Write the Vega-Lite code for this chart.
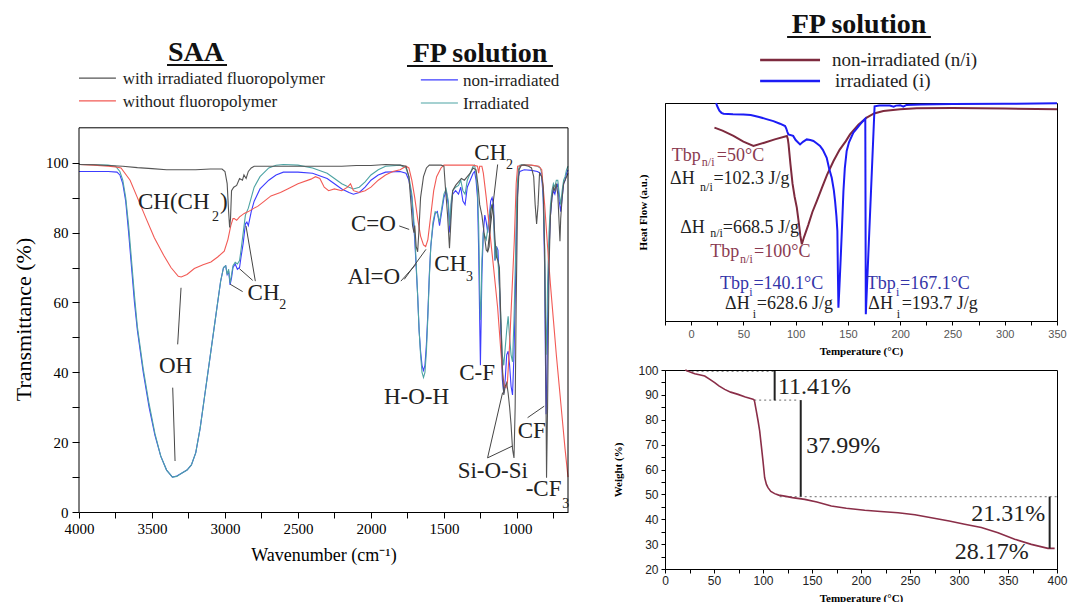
{
"$schema": "https://vega.github.io/schema/vega-lite/v6.json",
"background": "white",
"padding": {"left": 12, "top": 10, "right": 0, "bottom": 0},
"bounds": "flush",
"spacing": 97,
"config": {
  "view": {"stroke": "black", "strokeWidth": 1},
  "axis": {"grid": false, "labelFlush": false, "domainColor": "black", "tickColor": "black", "labelColor": "black", "titleColor": "black", "titleFontWeight": "normal"},
  "text": {"font": "Liberation Serif"}
},
"datasets": {
  "ftir": [
    {"s":"b","x":4000,"y":97.5},{"s":"b","x":3900,"y":97.5},{"s":"b","x":3800,"y":97.5},{"s":"b","x":3740,"y":97.3},{"s":"b","x":3720,"y":96.5},{"s":"b","x":3700,"y":94},{"s":"b","x":3680,"y":89},{"s":"b","x":3660,"y":80},{"s":"b","x":3640,"y":70},{"s":"b","x":3620,"y":60},{"s":"b","x":3600,"y":52},{"s":"b","x":3560,"y":40},{"s":"b","x":3520,"y":30},{"s":"b","x":3480,"y":22},{"s":"b","x":3440,"y":16},{"s":"b","x":3400,"y":12},{"s":"b","x":3360,"y":10},{"s":"b","x":3330,"y":10.3},{"s":"b","x":3300,"y":11},{"s":"b","x":3260,"y":12},{"s":"b","x":3230,"y":13.5},{"s":"b","x":3200,"y":17},{"s":"b","x":3170,"y":24},{"s":"b","x":3140,"y":33},{"s":"b","x":3100,"y":45},{"s":"b","x":3060,"y":57},{"s":"b","x":3030,"y":66},{"s":"b","x":3010,"y":70},{"s":"b","x":2995,"y":70.5},{"s":"b","x":2985,"y":68},{"s":"b","x":2975,"y":69},{"s":"b","x":2965,"y":65},{"s":"b","x":2955,"y":67},{"s":"b","x":2945,"y":70},{"s":"b","x":2930,"y":71},{"s":"b","x":2915,"y":69.5},{"s":"b","x":2900,"y":70},{"s":"b","x":2890,"y":73},{"s":"b","x":2875,"y":77},{"s":"b","x":2860,"y":82.5},{"s":"b","x":2850,"y":83},{"s":"b","x":2840,"y":82},{"s":"b","x":2820,"y":86},{"s":"b","x":2800,"y":89},{"s":"b","x":2760,"y":92.5},{"s":"b","x":2700,"y":95},{"s":"b","x":2650,"y":96.5},{"s":"b","x":2600,"y":97.3},{"s":"b","x":2500,"y":97.3},{"s":"b","x":2400,"y":97},{"s":"b","x":2300,"y":95.5},{"s":"b","x":2250,"y":94},{"s":"b","x":2200,"y":92.5},{"s":"b","x":2150,"y":91.5},{"s":"b","x":2120,"y":91},{"s":"b","x":2080,"y":91.5},{"s":"b","x":2040,"y":93},{"s":"b","x":2000,"y":95},{"s":"b","x":1950,"y":96.5},{"s":"b","x":1900,"y":97.3},{"s":"b","x":1800,"y":97.5},{"s":"b","x":1760,"y":97},{"s":"b","x":1740,"y":95},{"s":"b","x":1720,"y":90},{"s":"b","x":1700,"y":78},{"s":"b","x":1690,"y":70},{"s":"b","x":1680,"y":62},{"s":"b","x":1670,"y":52},{"s":"b","x":1660,"y":46},{"s":"b","x":1650,"y":42},{"s":"b","x":1640,"y":40.5},{"s":"b","x":1630,"y":42},{"s":"b","x":1620,"y":48},{"s":"b","x":1610,"y":57},{"s":"b","x":1600,"y":68},{"s":"b","x":1590,"y":76},{"s":"b","x":1575,"y":82},{"s":"b","x":1560,"y":85.5},{"s":"b","x":1545,"y":86},{"s":"b","x":1530,"y":82},{"s":"b","x":1515,"y":86},{"s":"b","x":1500,"y":90},{"s":"b","x":1485,"y":92},{"s":"b","x":1470,"y":88},{"s":"b","x":1460,"y":80},{"s":"b","x":1450,"y":88},{"s":"b","x":1440,"y":91},{"s":"b","x":1420,"y":92},{"s":"b","x":1400,"y":91},{"s":"b","x":1385,"y":93},{"s":"b","x":1370,"y":89},{"s":"b","x":1355,"y":88},{"s":"b","x":1340,"y":93},{"s":"b","x":1320,"y":95},{"s":"b","x":1300,"y":97},{"s":"b","x":1290,"y":97.5},{"s":"b","x":1280,"y":95},{"s":"b","x":1270,"y":90},{"s":"b","x":1262,"y":75},{"s":"b","x":1255,"y":55},{"s":"b","x":1250,"y":42},{"s":"b","x":1245,"y":55},{"s":"b","x":1240,"y":68},{"s":"b","x":1230,"y":80},{"s":"b","x":1220,"y":85},{"s":"b","x":1210,"y":83},{"s":"b","x":1200,"y":80},{"s":"b","x":1190,"y":84},{"s":"b","x":1180,"y":89},{"s":"b","x":1170,"y":90},{"s":"b","x":1160,"y":88},{"s":"b","x":1150,"y":72},{"s":"b","x":1140,"y":76},{"s":"b","x":1130,"y":75},{"s":"b","x":1120,"y":65},{"s":"b","x":1110,"y":52},{"s":"b","x":1100,"y":38},{"s":"b","x":1090,"y":34},{"s":"b","x":1080,"y":38},{"s":"b","x":1070,"y":45},{"s":"b","x":1060,"y":46},{"s":"b","x":1050,"y":42},{"s":"b","x":1040,"y":36},{"s":"b","x":1030,"y":33.5},{"s":"b","x":1020,"y":45},{"s":"b","x":1010,"y":65},{"s":"b","x":1000,"y":88},{"s":"b","x":990,"y":96},{"s":"b","x":980,"y":97.5},{"s":"b","x":950,"y":98},{"s":"b","x":900,"y":97.8},{"s":"b","x":860,"y":97.5},{"s":"b","x":840,"y":97},{"s":"b","x":830,"y":96},{"s":"b","x":820,"y":90},{"s":"b","x":810,"y":70},{"s":"b","x":805,"y":45},{"s":"b","x":800,"y":28},{"s":"b","x":795,"y":35},{"s":"b","x":790,"y":55},{"s":"b","x":780,"y":75},{"s":"b","x":770,"y":85},{"s":"b","x":760,"y":90},{"s":"b","x":750,"y":92},{"s":"b","x":740,"y":91},{"s":"b","x":730,"y":93},{"s":"b","x":720,"y":94},{"s":"b","x":710,"y":89},{"s":"b","x":700,"y":86},{"s":"b","x":690,"y":90},{"s":"b","x":680,"y":94},{"s":"b","x":670,"y":95},{"s":"b","x":660,"y":97},{"s":"b","x":650,"y":98},
    {"s":"t","x":4000,"y":99.5},{"s":"t","x":3900,"y":99.4},{"s":"t","x":3800,"y":99.3},{"s":"t","x":3750,"y":99},{"s":"t","x":3720,"y":97.5},{"s":"t","x":3700,"y":95},{"s":"t","x":3680,"y":90},{"s":"t","x":3660,"y":82},{"s":"t","x":3640,"y":72},{"s":"t","x":3620,"y":62},{"s":"t","x":3600,"y":53},{"s":"t","x":3560,"y":41},{"s":"t","x":3520,"y":31},{"s":"t","x":3480,"y":22.5},{"s":"t","x":3440,"y":16},{"s":"t","x":3400,"y":12},{"s":"t","x":3360,"y":10},{"s":"t","x":3330,"y":10.2},{"s":"t","x":3300,"y":11},{"s":"t","x":3260,"y":12},{"s":"t","x":3230,"y":13.5},{"s":"t","x":3200,"y":17},{"s":"t","x":3170,"y":24},{"s":"t","x":3140,"y":33},{"s":"t","x":3100,"y":45},{"s":"t","x":3060,"y":57},{"s":"t","x":3030,"y":66},{"s":"t","x":3010,"y":70},{"s":"t","x":2995,"y":70.5},{"s":"t","x":2985,"y":68},{"s":"t","x":2975,"y":69.5},{"s":"t","x":2965,"y":65.5},{"s":"t","x":2955,"y":68},{"s":"t","x":2945,"y":70.5},{"s":"t","x":2930,"y":71.5},{"s":"t","x":2915,"y":71},{"s":"t","x":2900,"y":72},{"s":"t","x":2890,"y":75},{"s":"t","x":2875,"y":80},{"s":"t","x":2860,"y":85},{"s":"t","x":2850,"y":86},{"s":"t","x":2840,"y":87},{"s":"t","x":2820,"y":90},{"s":"t","x":2800,"y":93},{"s":"t","x":2760,"y":96},{"s":"t","x":2700,"y":98.5},{"s":"t","x":2650,"y":99.3},{"s":"t","x":2600,"y":99.5},{"s":"t","x":2500,"y":99.3},{"s":"t","x":2400,"y":98.5},{"s":"t","x":2300,"y":97},{"s":"t","x":2250,"y":95.5},{"s":"t","x":2200,"y":94},{"s":"t","x":2150,"y":93},{"s":"t","x":2120,"y":92.5},{"s":"t","x":2080,"y":93},{"s":"t","x":2040,"y":94.5},{"s":"t","x":2000,"y":96.5},{"s":"t","x":1950,"y":98},{"s":"t","x":1900,"y":99},{"s":"t","x":1800,"y":99.3},{"s":"t","x":1760,"y":98.5},{"s":"t","x":1740,"y":96},{"s":"t","x":1720,"y":91},{"s":"t","x":1700,"y":80},{"s":"t","x":1690,"y":71},{"s":"t","x":1680,"y":62},{"s":"t","x":1670,"y":52},{"s":"t","x":1660,"y":45},{"s":"t","x":1650,"y":40},{"s":"t","x":1640,"y":38.5},{"s":"t","x":1630,"y":40},{"s":"t","x":1620,"y":46},{"s":"t","x":1610,"y":56},{"s":"t","x":1600,"y":67},{"s":"t","x":1590,"y":76},{"s":"t","x":1575,"y":83},{"s":"t","x":1560,"y":86},{"s":"t","x":1545,"y":85.5},{"s":"t","x":1530,"y":83},{"s":"t","x":1515,"y":87},{"s":"t","x":1500,"y":91},{"s":"t","x":1485,"y":92.5},{"s":"t","x":1470,"y":89},{"s":"t","x":1460,"y":82},{"s":"t","x":1450,"y":89},{"s":"t","x":1440,"y":92},{"s":"t","x":1420,"y":93},{"s":"t","x":1400,"y":93.5},{"s":"t","x":1385,"y":95},{"s":"t","x":1370,"y":92},{"s":"t","x":1355,"y":91},{"s":"t","x":1340,"y":95},{"s":"t","x":1320,"y":97},{"s":"t","x":1300,"y":99},{"s":"t","x":1290,"y":99.3},{"s":"t","x":1280,"y":97},{"s":"t","x":1270,"y":92},{"s":"t","x":1262,"y":82},{"s":"t","x":1255,"y":65},{"s":"t","x":1250,"y":55},{"s":"t","x":1245,"y":60},{"s":"t","x":1240,"y":72},{"s":"t","x":1230,"y":80},{"s":"t","x":1220,"y":79},{"s":"t","x":1210,"y":78},{"s":"t","x":1200,"y":81},{"s":"t","x":1190,"y":85},{"s":"t","x":1180,"y":87},{"s":"t","x":1170,"y":88},{"s":"t","x":1160,"y":86},{"s":"t","x":1150,"y":72},{"s":"t","x":1140,"y":76},{"s":"t","x":1130,"y":72},{"s":"t","x":1120,"y":65},{"s":"t","x":1110,"y":55},{"s":"t","x":1100,"y":45},{"s":"t","x":1090,"y":42},{"s":"t","x":1080,"y":47},{"s":"t","x":1070,"y":52},{"s":"t","x":1060,"y":56},{"s":"t","x":1050,"y":50},{"s":"t","x":1040,"y":45},{"s":"t","x":1030,"y":43},{"s":"t","x":1020,"y":55},{"s":"t","x":1010,"y":72},{"s":"t","x":1000,"y":92},{"s":"t","x":990,"y":98},{"s":"t","x":980,"y":99.3},{"s":"t","x":950,"y":99.5},{"s":"t","x":900,"y":99.3},{"s":"t","x":860,"y":99},{"s":"t","x":840,"y":98.5},{"s":"t","x":830,"y":97},{"s":"t","x":820,"y":92},{"s":"t","x":810,"y":75},{"s":"t","x":805,"y":58},{"s":"t","x":800,"y":45},{"s":"t","x":795,"y":52},{"s":"t","x":790,"y":65},{"s":"t","x":780,"y":80},{"s":"t","x":770,"y":88},{"s":"t","x":760,"y":92},{"s":"t","x":750,"y":94},{"s":"t","x":740,"y":93},{"s":"t","x":730,"y":95},{"s":"t","x":720,"y":95},{"s":"t","x":710,"y":91},{"s":"t","x":700,"y":88},{"s":"t","x":690,"y":92},{"s":"t","x":680,"y":95},{"s":"t","x":670,"y":96},{"s":"t","x":660,"y":98},{"s":"t","x":650,"y":99},
    {"s":"r","x":4000,"y":99.5},{"s":"r","x":3900,"y":99.3},{"s":"r","x":3800,"y":99},{"s":"r","x":3750,"y":98.8},{"s":"r","x":3712,"y":98.5},{"s":"r","x":3650,"y":95},{"s":"r","x":3600,"y":90},{"s":"r","x":3540,"y":84},{"s":"r","x":3484,"y":78.5},{"s":"r","x":3420,"y":73.5},{"s":"r","x":3370,"y":70},{"s":"r","x":3320,"y":67.5},{"s":"r","x":3300,"y":67.3},{"s":"r","x":3260,"y":68},{"s":"r","x":3210,"y":69.7},{"s":"r","x":3150,"y":70.8},{"s":"r","x":3096,"y":71.6},{"s":"r","x":3050,"y":73},{"s":"r","x":3005,"y":74.7},{"s":"r","x":2980,"y":78},{"s":"r","x":2960,"y":82},{"s":"r","x":2945,"y":84},{"s":"r","x":2936,"y":84},{"s":"r","x":2920,"y":83.5},{"s":"r","x":2900,"y":84.5},{"s":"r","x":2868,"y":85.5},{"s":"r","x":2840,"y":86},{"s":"r","x":2800,"y":87},{"s":"r","x":2776,"y":87.5},{"s":"r","x":2730,"y":89},{"s":"r","x":2685,"y":90.5},{"s":"r","x":2620,"y":91.5},{"s":"r","x":2571,"y":92.5},{"s":"r","x":2500,"y":94},{"s":"r","x":2411,"y":95.3},{"s":"r","x":2380,"y":96},{"s":"r","x":2350,"y":95.5},{"s":"r","x":2320,"y":93},{"s":"r","x":2290,"y":92},{"s":"r","x":2250,"y":92.5},{"s":"r","x":2200,"y":92},{"s":"r","x":2160,"y":93},{"s":"r","x":2140,"y":94},{"s":"r","x":2120,"y":92},{"s":"r","x":2080,"y":91.5},{"s":"r","x":2040,"y":92},{"s":"r","x":2000,"y":93},{"s":"r","x":1950,"y":95},{"s":"r","x":1900,"y":96.5},{"s":"r","x":1850,"y":97.5},{"s":"r","x":1800,"y":98},{"s":"r","x":1760,"y":99},{"s":"r","x":1740,"y":98.5},{"s":"r","x":1720,"y":95},{"s":"r","x":1700,"y":90},{"s":"r","x":1680,"y":84},{"s":"r","x":1660,"y":79},{"s":"r","x":1640,"y":76.5},{"s":"r","x":1625,"y":76},{"s":"r","x":1610,"y":78},{"s":"r","x":1590,"y":85},{"s":"r","x":1570,"y":92},{"s":"r","x":1550,"y":96},{"s":"r","x":1520,"y":98.5},{"s":"r","x":1500,"y":99.3},{"s":"r","x":1400,"y":99.3},{"s":"r","x":1300,"y":99.3},{"s":"r","x":1270,"y":99},{"s":"r","x":1262,"y":97},{"s":"r","x":1255,"y":99},{"s":"r","x":1240,"y":99},{"s":"r","x":1230,"y":97},{"s":"r","x":1210,"y":90},{"s":"r","x":1190,"y":82},{"s":"r","x":1160,"y":70},{"s":"r","x":1132,"y":58.5},{"s":"r","x":1110,"y":46},{"s":"r","x":1098,"y":39.5},{"s":"r","x":1085,"y":36},{"s":"r","x":1075,"y":35.6},{"s":"r","x":1065,"y":37},{"s":"r","x":1050,"y":48},{"s":"r","x":1035,"y":62},{"s":"r","x":1018,"y":77.6},{"s":"r","x":1005,"y":94},{"s":"r","x":995,"y":99},{"s":"r","x":950,"y":99.3},{"s":"r","x":900,"y":99.3},{"s":"r","x":850,"y":99},{"s":"r","x":830,"y":98},{"s":"r","x":810,"y":88},{"s":"r","x":790,"y":76},{"s":"r","x":770,"y":65},{"s":"r","x":750,"y":55},{"s":"r","x":730,"y":45},{"s":"r","x":710,"y":36},{"s":"r","x":690,"y":27},{"s":"r","x":670,"y":18},{"s":"r","x":650,"y":10},
    {"s":"g","x":4000,"y":99.5},{"s":"g","x":3900,"y":99.4},{"s":"g","x":3800,"y":99.2},{"s":"g","x":3700,"y":99},{"s":"g","x":3600,"y":98.6},{"s":"g","x":3500,"y":98.3},{"s":"g","x":3400,"y":98},{"s":"g","x":3300,"y":98},{"s":"g","x":3200,"y":98},{"s":"g","x":3100,"y":98.2},{"s":"g","x":3020,"y":98.2},{"s":"g","x":3000,"y":97.5},{"s":"g","x":2985,"y":94},{"s":"g","x":2975,"y":86},{"s":"g","x":2968,"y":81.5},{"s":"g","x":2962,"y":84},{"s":"g","x":2955,"y":92},{"s":"g","x":2940,"y":93},{"s":"g","x":2920,"y":93.5},{"s":"g","x":2900,"y":95.5},{"s":"g","x":2880,"y":95},{"s":"g","x":2870,"y":96.5},{"s":"g","x":2855,"y":95.5},{"s":"g","x":2840,"y":97.5},{"s":"g","x":2820,"y":98.5},{"s":"g","x":2800,"y":99},{"s":"g","x":2600,"y":99},{"s":"g","x":2400,"y":99},{"s":"g","x":2200,"y":99},{"s":"g","x":2100,"y":99.2},{"s":"g","x":2000,"y":99.2},{"s":"g","x":1900,"y":99.5},{"s":"g","x":1800,"y":99.3},{"s":"g","x":1760,"y":99},{"s":"g","x":1740,"y":96},{"s":"g","x":1725,"y":88},{"s":"g","x":1715,"y":82},{"s":"g","x":1705,"y":80},{"s":"g","x":1700,"y":82},{"s":"g","x":1690,"y":76},{"s":"g","x":1680,"y":74.5},{"s":"g","x":1672,"y":80},{"s":"g","x":1660,"y":90},{"s":"g","x":1640,"y":96},{"s":"g","x":1620,"y":98.5},{"s":"g","x":1600,"y":99.3},{"s":"g","x":1520,"y":99.3},{"s":"g","x":1500,"y":99},{"s":"g","x":1490,"y":93},{"s":"g","x":1475,"y":85},{"s":"g","x":1462,"y":75.5},{"s":"g","x":1450,"y":85},{"s":"g","x":1440,"y":92},{"s":"g","x":1420,"y":93.5},{"s":"g","x":1400,"y":94.5},{"s":"g","x":1380,"y":95.5},{"s":"g","x":1360,"y":95},{"s":"g","x":1340,"y":96},{"s":"g","x":1320,"y":97},{"s":"g","x":1300,"y":98.5},{"s":"g","x":1280,"y":98},{"s":"g","x":1265,"y":93},{"s":"g","x":1255,"y":88},{"s":"g","x":1240,"y":85},{"s":"g","x":1225,"y":80},{"s":"g","x":1210,"y":75},{"s":"g","x":1200,"y":74.5},{"s":"g","x":1190,"y":76},{"s":"g","x":1180,"y":86},{"s":"g","x":1170,"y":88},{"s":"g","x":1160,"y":85},{"s":"g","x":1150,"y":78},{"s":"g","x":1140,"y":73},{"s":"g","x":1130,"y":72},{"s":"g","x":1120,"y":70},{"s":"g","x":1110,"y":55},{"s":"g","x":1100,"y":42},{"s":"g","x":1090,"y":33.5},{"s":"g","x":1080,"y":36},{"s":"g","x":1070,"y":37},{"s":"g","x":1060,"y":34},{"s":"g","x":1050,"y":30},{"s":"g","x":1040,"y":25},{"s":"g","x":1030,"y":18},{"s":"g","x":1020,"y":15.5},{"s":"g","x":1012,"y":30},{"s":"g","x":1005,"y":60},{"s":"g","x":995,"y":90},{"s":"g","x":985,"y":98},{"s":"g","x":970,"y":99.3},{"s":"g","x":950,"y":99.3},{"s":"g","x":920,"y":99},{"s":"g","x":900,"y":98.5},{"s":"g","x":885,"y":96},{"s":"g","x":875,"y":88},{"s":"g","x":865,"y":82.5},{"s":"g","x":855,"y":88},{"s":"g","x":845,"y":97},{"s":"g","x":830,"y":96},{"s":"g","x":820,"y":93},{"s":"g","x":810,"y":75},{"s":"g","x":803,"y":45},{"s":"g","x":797,"y":9.8},{"s":"g","x":790,"y":30},{"s":"g","x":780,"y":70},{"s":"g","x":770,"y":85},{"s":"g","x":760,"y":90},{"s":"g","x":750,"y":93},{"s":"g","x":740,"y":92},{"s":"g","x":730,"y":94},{"s":"g","x":720,"y":91},{"s":"g","x":710,"y":82},{"s":"g","x":705,"y":77.5},{"s":"g","x":700,"y":84},{"s":"g","x":690,"y":90},{"s":"g","x":680,"y":94},{"s":"g","x":670,"y":95},{"s":"g","x":660,"y":96},{"s":"g","x":650,"y":97}
  ],
  "ftirFrame": [
    {"x":4000,"x2":650,"y":110,"y2":110},{"x":4000,"x2":4000,"y":0,"y2":110},{"x":650,"x2":650,"y":0,"y2":110}
  ],
  "ftirText": [
    {"x":3596,"y":86.7,"label":"CH(CH"},{"x":3034,"y":86.7,"label":")"},{"x":3452,"y":39.7,"label":"OH"},{"x":2845,"y":60.6,"label":"CH"},{"x":2137,"y":80.4,"label":"C=O"},{"x":2160,"y":65.4,"label":"Al=O"},{"x":1566,"y":69,"label":"CH"},{"x":1292,"y":100.8,"label":"CH"},{"x":1395,"y":37.7,"label":"C-F"},{"x":1911,"y":31,"label":"H-O-H"},{"x":1406,"y":9.8,"label":"Si-O-Si"},{"x":995,"y":21.3,"label":"CF"},{"x":940,"y":4.6,"label":"-CF"}
  ],
  "ftirSub": [
    {"x":3089,"y":83.3,"label":"2"},{"x":2628,"y":58,"label":"2"},{"x":1349,"y":66.1,"label":"3"},{"x":1075,"y":98.2,"label":"2"},{"x":690,"y":1.2,"label":"3"}
  ],
  "ftirLead": [
    {"x":3301,"y":64.2,"x2":3324,"y2":48},{"x":3358,"y":35.6,"x2":3342,"y2":14.6},{"x":2964,"y":65.2,"x2":2879,"y2":63.1},{"x":2902,"y":69.7,"x2":2810,"y2":66.3},{"x":2856,"y":81.9,"x2":2792,"y2":66.1},{"x":1806,"y":81.9,"x2":1738,"y2":80.9},{"x":1795,"y":66.1,"x2":1692,"y2":70.9},{"x":1772,"y":66.6,"x2":1623,"y2":75.2},{"x":1132,"y":99.5,"x2":1201,"y2":74.7},{"x":1201,"y":15.5,"x2":1098,"y2":34.2},{"x":1201,"y":15.5,"x2":1030,"y2":18.9},{"x":927,"y":27,"x2":813,"y2":30.3}
  ],
  "ftirLegLine": [
    {"s":"g","x":4000,"x2":3747,"y":124.2},{"s":"r","x":4000,"x2":3747,"y":117.7},{"s":"b","x":1658,"x2":1404,"y":123.7},{"s":"t","x":1658,"x2":1404,"y":117.1}
  ],
  "ftirLegText": [
    {"x":3700,"y":122.5,"label":"with irradiated fluoropolymer"},{"x":3700,"y":115.9,"label":"without fluoropolymer"},{"x":1370,"y":122,"label":"non-irradiated"},{"x":1370,"y":115.4,"label":"Irradiated"}
  ],
  "ftirTitle": [
    {"x":3199,"y":129.1,"label":"SAA"},{"x":1253,"y":128.8,"label":"FP solution"}
  ],
  "ftirUnder": [
    {"x":3397,"x2":2986,"y":128},{"x":1753,"x2":753,"y":127.7}
  ],
  "dsc": [
    {"s":"m","x":22.3,"y":88.7},{"s":"m","x":30,"y":87.3},{"s":"m","x":40.5,"y":84.9},{"s":"m","x":50,"y":82.3},{"s":"m","x":59.6,"y":80.3},{"s":"m","x":70,"y":81.8},{"s":"m","x":80,"y":83.3},{"s":"m","x":91.6,"y":84.9},{"s":"m","x":92.5,"y":83.5},{"s":"m","x":93.2,"y":81},{"s":"m","x":95,"y":72},{"s":"m","x":97,"y":63},{"s":"m","x":99,"y":57},{"s":"m","x":101.1,"y":52},{"s":"m","x":103,"y":45},{"s":"m","x":104.5,"y":39},{"s":"m","x":105.9,"y":35.2},{"s":"m","x":108,"y":38.5},{"s":"m","x":112,"y":44},{"s":"m","x":116,"y":50},{"s":"m","x":120.2,"y":55},{"s":"m","x":125,"y":61},{"s":"m","x":130,"y":67},{"s":"m","x":136.2,"y":73.4},{"s":"m","x":142,"y":78.5},{"s":"m","x":148,"y":82.5},{"s":"m","x":152,"y":85.6},{"s":"m","x":160,"y":90},{"s":"m","x":168,"y":93.3},{"s":"m","x":175,"y":95.2},{"s":"m","x":183.9,"y":96.3},{"s":"m","x":200,"y":97.1},{"s":"m","x":215.8,"y":97.6},{"s":"m","x":250,"y":97.7},{"s":"m","x":300,"y":97.5},{"s":"m","x":350,"y":97.1},
    {"s":"ib","x":23.9,"y":99.9},{"s":"ib","x":25,"y":98.5},{"s":"ib","x":27,"y":96.5},{"s":"ib","x":29,"y":95.5},{"s":"ib","x":31,"y":95.1},{"s":"ib","x":40,"y":94.8},{"s":"ib","x":50,"y":94.7},{"s":"ib","x":57,"y":94.5},{"s":"ib","x":65,"y":93.6},{"s":"ib","x":72,"y":92.6},{"s":"ib","x":78.7,"y":91.7},{"s":"ib","x":85,"y":90.5},{"s":"ib","x":89.9,"y":89.4},{"s":"ib","x":91,"y":88.3},{"s":"ib","x":92,"y":86.8},{"s":"ib","x":93,"y":85.6},{"s":"ib","x":97.6,"y":84.9},{"s":"ib","x":100,"y":83},{"s":"ib","x":104.2,"y":81},{"s":"ib","x":107,"y":82.2},{"s":"ib","x":110.6,"y":83.3},{"s":"ib","x":114,"y":83},{"s":"ib","x":117,"y":82.6},{"s":"ib","x":120,"y":81.5},{"s":"ib","x":123.3,"y":80.3},{"s":"ib","x":126,"y":78.5},{"s":"ib","x":129.7,"y":74.9},{"s":"ib","x":132,"y":70},{"s":"ib","x":134.5,"y":65.7},{"s":"ib","x":136.5,"y":60},{"s":"ib","x":137.7,"y":55},{"s":"ib","x":139,"y":48},{"s":"ib","x":139.9,"y":41.3},{"s":"ib","x":140.4,"y":22},{"s":"ib","x":140.9,"y":6.1},{"s":"ib","x":141.8,"y":15},{"s":"ib","x":143.1,"y":29},{"s":"ib","x":144.5,"y":45},{"s":"ib","x":145.7,"y":59.6},{"s":"ib","x":147,"y":70},{"s":"ib","x":148.8,"y":78},{"s":"ib","x":151,"y":82},{"s":"ib","x":155.2,"y":86.4},{"s":"ib","x":158.4,"y":88.2},{"s":"ib","x":161.6,"y":90.2},{"s":"ib","x":164,"y":91.5},{"s":"ib","x":166.6,"y":92.8},{"s":"ib","x":167.1,"y":3.1},{"s":"ib","x":175.5,"y":98.5},{"s":"ib","x":180,"y":98.9},{"s":"ib","x":190,"y":98.8},{"s":"ib","x":193.7,"y":98.3},{"s":"ib","x":196,"y":98.8},{"s":"ib","x":200,"y":99},{"s":"ib","x":203,"y":98.3},{"s":"ib","x":206,"y":99.1},{"s":"ib","x":220,"y":99.3},{"s":"ib","x":250,"y":99.5},{"s":"ib","x":300,"y":99.6},{"s":"ib","x":350,"y":99.9}
  ],
  "dscMain": [
    {"s":"mt","x":-18.5,"y":73.4,"label":"Tbp"},{"s":"mt","x":24.6,"y":73.4,"label":"=50°C"},
    {"s":"k","x":-20.1,"y":62.7,"label":"ΔH"},{"s":"k","x":21.3,"y":62.7,"label":"=102.3 J/g"},
    {"s":"k","x":-10.5,"y":40.2,"label":"ΔH"},{"s":"k","x":30.3,"y":40.2,"label":"=668.5 J/g"},
    {"s":"mt","x":18.2,"y":29.3,"label":"Tbp"},{"s":"mt","x":60.2,"y":29.3,"label":"=100°C"},
    {"s":"bt","x":27.7,"y":14.5,"label":"Tbp"},{"s":"bt","x":59.6,"y":14.5,"label":"=140.1°C"},
    {"s":"k","x":32.5,"y":5.4,"label":"ΔH"},{"s":"k","x":62.8,"y":5.4,"label":"=628.6 J/g"},
    {"s":"bt","x":168,"y":14.5,"label":"Tbp"},{"s":"bt","x":199.8,"y":14.5,"label":"=167.1°C"},
    {"s":"k","x":169.5,"y":5.4,"label":"ΔH"},{"s":"k","x":201.4,"y":5.4,"label":"=193.7 J/g"}
  ],
  "dscSub": [
    {"s":"mt","x":10.2,"y":71.1,"label":"n/i"},{"s":"k","x":8.6,"y":59.6,"label":"n/i"},{"s":"k","x":18.2,"y":38.4,"label":"n/i"},{"s":"mt","x":46.8,"y":26.4,"label":"n/i"},{"s":"bt","x":55.7,"y":11.5,"label":"i"},{"s":"k","x":59,"y":1.5,"label":"i"},{"s":"bt","x":196,"y":11.5,"label":"i"},{"s":"k","x":196.7,"y":1.5,"label":"i"}
  ],
  "dscLegLine": [
    {"s":"m","x":66,"x2":123.3,"y":119.7},{"s":"ib","x":66,"x2":123.3,"y":110.1}
  ],
  "dscLegText": [
    {"x":134.8,"y":117,"label":"non-irradiated (n/i)"},{"x":137.7,"y":107.3,"label":"irradiated (i)"}
  ],
  "dscTitle": [{"x":160.6,"y":132.1,"label":"FP solution"}],
  "dscUnder": [{"x":91.8,"x2":229.4,"y":130.3}],
  "tga": [
    {"x":20.7,"y":100},{"x":25,"y":99.3},{"x":30.3,"y":98.5},{"x":35,"y":98.1},{"x":40.5,"y":97.6},{"x":45,"y":96.4},{"x":50.7,"y":94.9},{"x":55,"y":93.6},{"x":60.9,"y":92.2},{"x":67,"y":91.1},{"x":74.5,"y":90.2},{"x":82,"y":89.1},{"x":89.8,"y":88.2},{"x":90.8,"y":88},{"x":91.5,"y":87.2},{"x":92.5,"y":85},{"x":93.2,"y":83.5},{"x":95,"y":79.5},{"x":96.6,"y":75.5},{"x":98.3,"y":69.5},{"x":100,"y":63.4},{"x":101.7,"y":56.7},{"x":103.5,"y":54},{"x":105.1,"y":52.7},{"x":108,"y":51.2},{"x":111.9,"y":50.3},{"x":116,"y":49.7},{"x":122.1,"y":49.3},{"x":130,"y":48.7},{"x":142.6,"y":48},{"x":155,"y":46.9},{"x":169.7,"y":45.3},{"x":185,"y":44.4},{"x":203.8,"y":43.6},{"x":220,"y":43.1},{"x":237.8,"y":42.6},{"x":255,"y":41.8},{"x":271.8,"y":40.6},{"x":290,"y":39.3},{"x":305.8,"y":38},{"x":322.8,"y":36.7},{"x":339.8,"y":34.6},{"x":356.8,"y":32},{"x":373.8,"y":29.9},{"x":390.8,"y":28.3},{"x":397.6,"y":28.3}
  ],
  "tgaDot": [{"x":22,"x2":112,"y":99.4},{"x":91,"x2":137,"y":87.9},{"x":117,"x2":400,"y":49.1}],
  "tgaBar": [{"x":111.9,"y":99.6,"y2":87.8},{"x":138.5,"y":87.9,"y2":49.1},{"x":392.5,"y":49.1,"y2":28.3}],
  "tgaText": [{"x":115.3,"y":90.4,"label":"11.41%"},{"x":144.2,"y":66.8,"label":"37.99%"},{"x":312.6,"y":39.3,"label":"21.31%"},{"x":295.6,"y":24,"label":"28.17%"}]
},
"hconcat": [
  {
    "width": 489, "height": 409,
    "view": {"stroke": null},
    "encoding": {
      "x": {"field": "x", "type": "quantitative", "scale": {"domain": [650, 4000], "reverse": true, "nice": false, "zero": false},
            "axis": {"values": [4000,3750,3500,3250,3000,2750,2500,2250,2000,1750,1500,1250,1000,750], "format": "d", "labelExpr": "datum.value % 500 == 0 ? datum.label : ''", "title": "Wavenumber (cm⁻¹)", "titleFont": "Liberation Serif", "titleFontSize": 18, "labelFont": "Liberation Serif", "labelFontSize": 15, "tickSize": 6, "labelPadding": 3, "titlePadding": 10}},
      "y": {"field": "y", "type": "quantitative", "scale": {"domain": [0, 117.1], "nice": false, "zero": false},
            "axis": {"values": [0,10,20,30,40,50,60,70,80,90,100], "domain": false, "labelExpr": "datum.value % 20 == 0 ? datum.label : ''", "title": "Transmittance (%)", "titleFont": "Liberation Serif", "titleFontSize": 22, "titleY": 216, "labelFont": "Liberation Serif", "labelFontSize": 15, "tickSize": 7, "labelPadding": 4, "titlePadding": 10}}
    },
    "layer": [
      {"data": {"name": "ftir"}, "mark": {"type": "line", "strokeWidth": 1.1}, "encoding": {"color": {"field": "s", "type": "nominal", "scale": {"domain": ["g","r","b","t","m","ib","k","mt","bt"], "range": ["#555555","#f25a55","#3c3cff","#4da3a3","#7d2a3e","#1c1cf5","#222222","#8a3a50","#3434a8"]}, "legend": null}, "detail": {"field": "s"}}},
      {"data": {"name": "ftirFrame"}, "mark": {"type": "rule", "color": "black", "strokeWidth": 1}, "encoding": {"x2": {"field": "x2"}, "y2": {"field": "y2"}}},
      {"data": {"name": "ftirLead"}, "mark": {"type": "rule", "color": "#444444", "strokeWidth": 1}, "encoding": {"x2": {"field": "x2"}, "y2": {"field": "y2"}}},
      {"data": {"name": "ftirText"}, "mark": {"type": "text", "align": "left", "baseline": "alphabetic", "fontSize": 23, "color": "#222222"}, "encoding": {"text": {"field": "label"}}},
      {"data": {"name": "ftirSub"}, "mark": {"type": "text", "align": "left", "baseline": "alphabetic", "fontSize": 14, "color": "#222222"}, "encoding": {"text": {"field": "label"}}},
      {"data": {"name": "ftirLegLine"}, "mark": {"type": "rule", "strokeWidth": 1.2}, "encoding": {"x2": {"field": "x2"}, "color": {"field": "s", "type": "nominal", "scale": {"domain": ["g","r","b","t","m","ib","k","mt","bt"], "range": ["#555555","#f25a55","#3c3cff","#4da3a3","#7d2a3e","#1c1cf5","#222222","#8a3a50","#3434a8"]}, "legend": null}}},
      {"data": {"name": "ftirLegText"}, "mark": {"type": "text", "align": "left", "baseline": "alphabetic", "fontSize": 17, "color": "#222222"}, "encoding": {"text": {"field": "label"}}},
      {"data": {"name": "ftirTitle"}, "mark": {"type": "text", "align": "center", "baseline": "alphabetic", "fontSize": 28, "fontWeight": "bold", "color": "#111111"}, "encoding": {"text": {"field": "label"}}},
      {"data": {"name": "ftirUnder"}, "mark": {"type": "rule", "color": "#111111", "strokeWidth": 2}, "encoding": {"x2": {"field": "x2"}}}
    ]
  },
  {
    "bounds": "flush",
    "spacing": 49,
    "vconcat": [
      {
        "width": 392, "height": 218,
        "encoding": {
          "x": {"field": "x", "type": "quantitative", "scale": {"domain": [-25, 350], "nice": false, "zero": false},
                "axis": {"values": [-25,0,25,50,75,100,125,150,175,200,225,250,275,300,325,350], "labelExpr": "datum.value % 50 == 0 ? datum.label : ''", "title": "Temperature (°C)", "titleFont": "Liberation Serif", "titleFontSize": 11, "titleFontWeight": "bold", "labelFont": "Liberation Sans", "labelFontSize": 11, "labelColor": "#555555", "tickSize": 4, "labelPadding": 3, "titlePadding": 6}},
          "y": {"field": "y", "type": "quantitative", "scale": {"domain": [0, 100], "nice": false, "zero": false},
                "axis": {"labels": false, "ticks": false, "title": "Heat Flow (a.u.)", "titleFont": "Liberation Serif", "titleFontSize": 11, "titleFontWeight": "bold", "titlePadding": 17}}
        },
        "layer": [
          {"data": {"name": "dsc"}, "mark": {"type": "line", "strokeWidth": 2}, "encoding": {"color": {"field": "s", "type": "nominal", "scale": {"domain": ["g","r","b","t","m","ib","k","mt","bt"], "range": ["#555555","#f25a55","#3c3cff","#4da3a3","#7d2a3e","#1c1cf5","#222222","#8a3a50","#3434a8"]}, "legend": null}, "detail": {"field": "s"}}},
          {"data": {"name": "dscMain"}, "mark": {"type": "text", "align": "left", "baseline": "alphabetic", "fontSize": 18}, "encoding": {"text": {"field": "label"}, "color": {"field": "s", "type": "nominal", "scale": {"domain": ["g","r","b","t","m","ib","k","mt","bt"], "range": ["#555555","#f25a55","#3c3cff","#4da3a3","#7d2a3e","#1c1cf5","#222222","#8a3a50","#3434a8"]}, "legend": null}}},
          {"data": {"name": "dscSub"}, "mark": {"type": "text", "align": "left", "baseline": "alphabetic", "fontSize": 12}, "encoding": {"text": {"field": "label"}, "color": {"field": "s", "type": "nominal", "scale": {"domain": ["g","r","b","t","m","ib","k","mt","bt"], "range": ["#555555","#f25a55","#3c3cff","#4da3a3","#7d2a3e","#1c1cf5","#222222","#8a3a50","#3434a8"]}, "legend": null}}},
          {"data": {"name": "dscLegLine"}, "mark": {"type": "rule", "strokeWidth": 2.5}, "encoding": {"x2": {"field": "x2"}, "color": {"field": "s", "type": "nominal", "scale": {"domain": ["g","r","b","t","m","ib","k","mt","bt"], "range": ["#555555","#f25a55","#3c3cff","#4da3a3","#7d2a3e","#1c1cf5","#222222","#8a3a50","#3434a8"]}, "legend": null}}},
          {"data": {"name": "dscLegText"}, "mark": {"type": "text", "align": "left", "baseline": "alphabetic", "fontSize": 19, "color": "#222222"}, "encoding": {"text": {"field": "label"}}},
          {"data": {"name": "dscTitle"}, "mark": {"type": "text", "align": "center", "baseline": "alphabetic", "fontSize": 28, "fontWeight": "bold", "color": "#111111"}, "encoding": {"text": {"field": "label"}}},
          {"data": {"name": "dscUnder"}, "mark": {"type": "rule", "color": "#111111", "strokeWidth": 2}, "encoding": {"x2": {"field": "x2"}}}
        ]
      },
      {
        "width": 392, "height": 199,
        "encoding": {
          "x": {"field": "x", "type": "quantitative", "scale": {"domain": [0, 400], "nice": false, "zero": false},
                "axis": {"values": [0,25,50,75,100,125,150,175,200,225,250,275,300,325,350,375,400], "labelExpr": "datum.value % 50 == 0 ? datum.label : ''", "title": "Temperature (°C)", "titleFont": "Liberation Serif", "titleFontSize": 11, "titleFontWeight": "bold", "labelFont": "Liberation Sans", "labelFontSize": 12, "labelColor": "#222222", "tickSize": 4, "labelPadding": 2, "titlePadding": 6}},
          "y": {"field": "y", "type": "quantitative", "scale": {"domain": [20, 100], "nice": false, "zero": false},
                "axis": {"values": [20,25,30,35,40,45,50,55,60,65,70,75,80,85,90,95,100], "labelExpr": "datum.value % 10 == 0 ? datum.label : ''", "title": "Weight (%)", "titleFont": "Liberation Serif", "titleFontSize": 11, "titleFontWeight": "bold", "labelFont": "Liberation Sans", "labelFontSize": 12, "labelColor": "#222222", "tickSize": 4, "labelPadding": 3, "titlePadding": 14}}
        },
        "layer": [
          {"data": {"name": "tgaDot"}, "mark": {"type": "rule", "color": "#888888", "strokeWidth": 1.2, "strokeDash": [2, 3]}, "encoding": {"x2": {"field": "x2"}}},
          {"data": {"name": "tga"}, "mark": {"type": "line", "strokeWidth": 1.6, "color": "#8a2e48"}, "encoding": {}},
          {"data": {"name": "tgaBar"}, "mark": {"type": "rule", "color": "#222222", "strokeWidth": 2}, "encoding": {"y2": {"field": "y2"}}},
          {"data": {"name": "tgaText"}, "mark": {"type": "text", "align": "left", "baseline": "alphabetic", "fontSize": 24, "color": "#222222"}, "encoding": {"text": {"field": "label"}}}
        ]
      }
    ]
  }
]
}
